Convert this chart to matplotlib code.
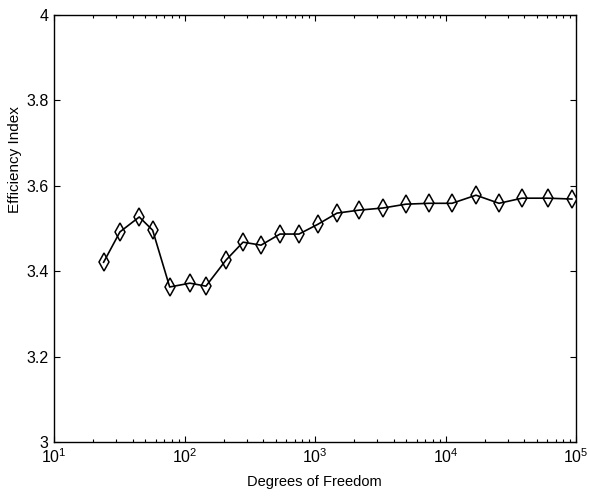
import matplotlib
matplotlib.use("Agg")
import matplotlib.pyplot as plt
from matplotlib.ticker import LogLocator, NullFormatter, FixedLocator

plt.rcParams['font.family'] = ['Liberation Sans', 'DejaVu Sans']
plt.rcParams['mathtext.fontset'] = 'custom'
plt.rcParams['mathtext.rm'] = 'Liberation Sans'
plt.rcParams['mathtext.it'] = 'Liberation Sans'
plt.rcParams['mathtext.default'] = 'regular'

dof = [24, 32, 45, 57, 77, 110, 146, 208, 281, 386, 539, 754, 1054, 1474,
       2174, 3318, 4980, 7475, 11220, 17130, 25700, 38560, 61000, 93000]
eff = [3.421, 3.492, 3.527, 3.496, 3.363, 3.372, 3.365, 3.426, 3.468, 3.461,
       3.487, 3.487, 3.510, 3.536, 3.543, 3.548, 3.557, 3.559, 3.559, 3.578,
       3.559, 3.571, 3.571, 3.569]

xticks = [10, 100, 1000, 10000, 100000]
xticklabels = ['$10^{1}$', '$10^{2}$', '$10^{3}$', '$10^{4}$', '$10^{5}$']
yticks = [3, 3.2, 3.4, 3.6, 3.8, 4]
yticklabels = ['3', '3.2', '3.4', '3.6', '3.8', '4']

fig = plt.figure(figsize=(5.89, 5.04), dpi=100)
ax = fig.add_axes([54/589, 1-442/504, 522/589, 427/504])

ax.plot(dof, eff, color='black', linewidth=1.2, marker='d', markersize=9,
        markerfacecolor='none', markeredgecolor='black', markeredgewidth=1.1)

ax.set_xscale('log')
ax.set_xlim(10, 100000)
ax.set_ylim(3, 4)
ax.xaxis.set_major_locator(FixedLocator(xticks))
ax.set_xticklabels(xticklabels, fontsize=11.5)
ax.xaxis.set_minor_locator(LogLocator(base=10, subs=range(2, 10)))
ax.xaxis.set_minor_formatter(NullFormatter())
ax.set_yticks(yticks)
ax.set_yticklabels(yticklabels, fontsize=11.5)

ax.tick_params(which='both', direction='in', top=True, right=True, width=0.8)
ax.tick_params(which='major', length=4.5, pad=4)
ax.tick_params(which='minor', length=2.5)
for s in ax.spines.values():
    s.set_linewidth(1.0)

ax.set_xlabel('Degrees of Freedom', fontsize=10.5, va='top')
ax.xaxis.set_label_coords(0.499, (442-475)/427)
ax.set_ylabel('Efficiency Index', fontsize=11)
ax.yaxis.set_label_coords((22-54)/522, (442-160)/427)

fig.savefig('out.png', dpi=100)
